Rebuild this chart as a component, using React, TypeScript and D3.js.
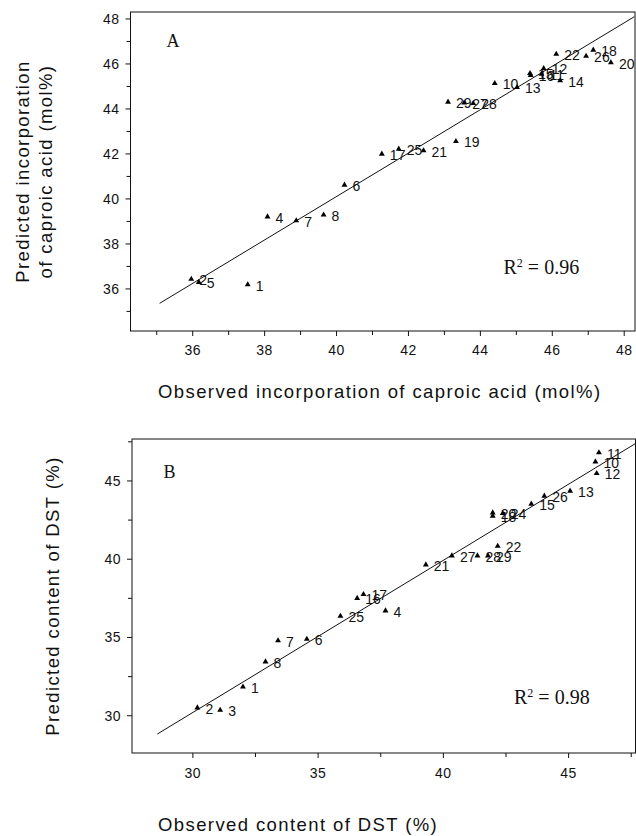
import React from 'react';
import * as d3 from 'd3';

// Panel A: caproic acid incorporation (mol%)
const labelsA = ['1', '2', '5', '4', '7', '8', '6', '17', '25', '21', '19', '29', '27', '28', '10', '13', '15', '16', '11', '12', '14', '22', '26', '18', '20'];
const observedA = [37.53, 35.96, 36.17, 38.08, 38.88, 39.64, 40.22, 41.26, 41.73, 42.42, 43.32, 43.1, 43.55, 43.8, 44.4, 45.02, 45.38, 45.4, 45.7, 45.76, 46.22, 46.11, 46.94, 47.14, 47.63];
const predictedA = [36.19, 36.44, 36.3, 39.21, 39.04, 39.29, 40.62, 42.0, 42.22, 42.15, 42.56, 44.31, 44.27, 44.25, 45.14, 44.96, 45.58, 45.5, 45.55, 45.8, 45.26, 46.44, 46.35, 46.62, 46.06];
const fitObsA = [35.08, 48.28];
const fitPredA = [35.36, 48.1];
const majorTicksA = [36, 38, 40, 42, 44, 46, 48];
const minorTicksA = [35, 37, 39, 41, 43, 45, 47];
const domainXA = [34.27, 48.3];
const domainYA = [34.13, 48.31];

// Panel B: DST content (%)
const labelsB = ['1', '2', '3', '4', '6', '7', '8', '25', '16', '17', '21', '27', '28', '29', '22', '20', '18', '24', '15', '26', '13', '10', '11', '12'];
const observedB = [32.0, 30.18, 31.09, 37.69, 34.55, 33.4, 32.9, 35.89, 36.56, 36.81, 39.3, 40.34, 41.36, 41.78, 42.17, 41.97, 41.97, 42.37, 43.51, 44.03, 45.06, 46.07, 46.21, 46.12];
const predictedB = [31.85, 30.51, 30.36, 36.71, 34.9, 34.8, 33.45, 36.37, 37.51, 37.76, 39.65, 40.22, 40.22, 40.22, 40.84, 42.97, 42.76, 42.93, 43.53, 44.04, 44.36, 46.23, 46.81, 45.49];
const fitObsB = [28.58, 47.67];
const fitPredB = [28.83, 47.39];
const majorTicksB = [30, 35, 40, 45];
const minorTicksB = [32.5, 37.5, 42.5, 47.5];
const domainXB = [27.57, 47.67];
const domainYB = [27.62, 47.68];

const SANS = "'Liberation Sans', Arial, Helvetica, sans-serif";
const SERIF = "'Liberation Serif', 'Times New Roman', serif";

const triangle = d3.symbol().type(d3.symbolTriangle).size(15)() as string;

type PanelProps = {
  box: { x0: number; x1: number; y0: number; y1: number };
  domX: number[];
  domY: number[];
  labels: string[];
  obs: number[];
  pred: number[];
  fitX: number[];
  fitY: number[];
  major: number[];
  minor: number[];
  letter: string;
  letterPos: [number, number];
  r2: string;
  r2Pos: [number, number];
  xTitle: string;
  xTitlePos: [number, number];
  yTitles: { text: string; x: number }[];
  xTickY: number;
};

function Panel(p: PanelProps) {
  const { box } = p;
  const x = d3.scaleLinear().domain(p.domX).range([box.x0, box.x1]);
  const y = d3.scaleLinear().domain(p.domY).range([box.y1, box.y0]);
  const fitLine = d3
    .line<number>()
    .x((d) => x(d))
    .y((_, i) => y(p.fitY[i]));
  const cy = (box.y0 + box.y1) / 2;
  return (
    <g>
      <rect x={box.x0} y={box.y0} width={box.x1 - box.x0} height={box.y1 - box.y0} fill="none" stroke="#111" strokeWidth={1} />
      {/* bottom axis ticks */}
      {p.major.map((t) => (
        <line key={'xM' + t} x1={x(t)} x2={x(t)} y1={box.y1} y2={box.y1 + 5} stroke="#111" />
      ))}
      {p.minor.map((t) => (
        <line key={'xm' + t} x1={x(t)} x2={x(t)} y1={box.y1} y2={box.y1 + 4} stroke="#111" />
      ))}
      {p.major.map((t) => (
        <text key={'xl' + t} x={x(t)} y={p.xTickY} textAnchor="middle" fontFamily={SANS} fontSize={14} letterSpacing={0.5} fill="#111">
          {t}
        </text>
      ))}
      {/* left axis ticks */}
      {p.major.map((t) => (
        <line key={'yM' + t} x1={box.x0 - 5} x2={box.x0} y1={y(t)} y2={y(t)} stroke="#111" />
      ))}
      {p.minor.map((t) => (
        <line key={'ym' + t} x1={box.x0 - 4} x2={box.x0} y1={y(t)} y2={y(t)} stroke="#111" />
      ))}
      {p.major.map((t) => (
        <text key={'yl' + t} x={box.x0 - 11} y={y(t) + 5} textAnchor="end" fontFamily={SANS} fontSize={14} letterSpacing={0.5} fill="#111">
          {t}
        </text>
      ))}
      {/* regression line */}
      <path d={fitLine(p.fitX) as string} fill="none" stroke="#111" strokeWidth={1} />
      {/* samples */}
      {p.obs.map((o, i) => (
        <g key={'pt' + i} transform={`translate(${x(o)},${y(p.pred[i])})`}>
          <path d={triangle} fill="#000" />
          <text x={8} y={6} fontFamily={SANS} fontSize={14} fill="#111">
            {p.labels[i]}
          </text>
        </g>
      ))}
      <text x={p.letterPos[0]} y={p.letterPos[1]} fontFamily={SERIF} fontSize={18} fill="#111">
        {p.letter}
      </text>
      <text x={p.r2Pos[0]} y={p.r2Pos[1]} fontFamily={SERIF} fontSize={20} fill="#111">
        R<tspan dy={-7} fontSize={12}>2</tspan>
        <tspan dy={7}> = {p.r2}</tspan>
      </text>
      <text x={p.xTitlePos[0]} y={p.xTitlePos[1]} fontFamily={SANS} fontSize={18.5} letterSpacing={1.4} fill="#111">
        {p.xTitle}
      </text>
      {p.yTitles.map((t) => (
        <text
          key={t.text}
          transform={`translate(${t.x},${cy}) rotate(-90)`}
          textAnchor="middle"
          fontFamily={SANS}
          fontSize={18.5}
          letterSpacing={1.4}
          fill="#111"
        >
          {t.text}
        </text>
      ))}
    </g>
  );
}

export default function App() {
  return (
    <svg width={636} height={836} style={{ position: 'absolute', left: 0, top: 0, display: 'block', background: '#fff' }}>
      <rect width={636} height={836} fill="#fff" />
      <Panel
        box={{ x0: 130.5, x1: 635, y0: 12, y1: 331 }}
        domX={domainXA}
        domY={domainYA}
        labels={labelsA}
        obs={observedA}
        pred={predictedA}
        fitX={fitObsA}
        fitY={fitPredA}
        major={majorTicksA}
        minor={minorTicksA}
        letter="A"
        letterPos={[166.5, 46.5]}
        r2="0.96"
        r2Pos={[503.5, 273.5]}
        xTitle="Observed incorporation of caproic acid (mol%)"
        xTitlePos={[158, 398]}
        yTitles={[
          { text: 'Predicted incorporation', x: 29 },
          { text: 'of caproic acid (mol%)', x: 51.5 },
        ]}
        xTickY={355}
      />
      <Panel
        box={{ x0: 132, x1: 635.5, y0: 439, y1: 753 }}
        domX={domainXB}
        domY={domainYB}
        labels={labelsB}
        obs={observedB}
        pred={predictedB}
        fitX={fitObsB}
        fitY={fitPredB}
        major={majorTicksB}
        minor={minorTicksB}
        letter="B"
        letterPos={[163.5, 478]}
        r2="0.98"
        r2Pos={[514, 703.5]}
        xTitle="Observed content of DST (%)"
        xTitlePos={[158, 831]}
        yTitles={[{ text: 'Predicted content of DST (%)', x: 58.5 }]}
        xTickY={778}
      />
    </svg>
  );
}
